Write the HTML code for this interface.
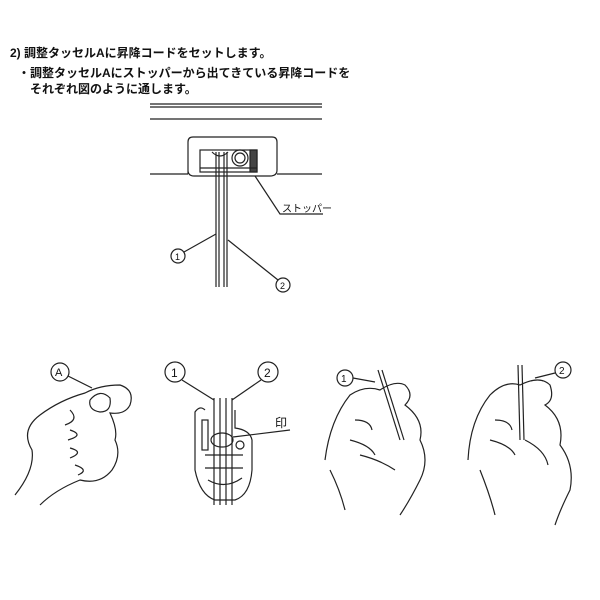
<!DOCTYPE html>
<html><head><meta charset="utf-8"><style>
body{margin:0;background:#fff;width:600px;height:600px;overflow:hidden}
.t{position:absolute;font-family:"Liberation Sans","Noto Sans CJK JP",sans-serif;font-size:12px;color:#111;white-space:nowrap;font-weight:bold}
</style></head><body>
<div class="t" style="left:10px;top:44px">2) 調整タッセルAに昇降コードをセットします。</div>
<div class="t" style="left:18px;top:64px">・調整タッセルAにストッパーから出てきている昇降コードを</div>
<div class="t" style="left:30px;top:80px">それぞれ図のように通します。</div>
<svg width="600" height="600" style="position:absolute;left:0;top:0" fill="none" stroke="#222" stroke-width="1.2" font-family="Liberation Sans, Noto Sans CJK JP, sans-serif">
<line x1="150" y1="104" x2="322" y2="104"/><line x1="150" y1="107" x2="322" y2="107"/>
<line x1="150" y1="119" x2="322" y2="119"/>
<line x1="150" y1="174" x2="188" y2="174"/><line x1="277" y1="174" x2="322" y2="174"/>
<path d="M188 174 V142 Q188 137 193 137 H272 Q277 137 277 142 V170 Q277 176 270 176 H194 Q188 176 188 170"/>
<rect x="200" y="150" width="57" height="22"/>
<path d="M212 152 Q220 160 228 152"/><circle cx="240" cy="158" r="8"/><circle cx="240" cy="158" r="5"/>
<rect x="250" y="150" width="7" height="22" fill="#444"/>
<line x1="200" y1="168" x2="257" y2="168"/>
<line x1="216" y1="152" x2="216" y2="287"/><line x1="219" y1="152" x2="219" y2="287"/>
<line x1="224" y1="152" x2="224" y2="287"/><line x1="227" y1="152" x2="227" y2="287"/>
<path d="M255 176 L280 214 H323"/>
<text x="282" y="212" font-size="10" fill="#111" stroke="none">ストッパー</text>
<circle cx="178" cy="256" r="7"/><text x="175" y="260" font-size="9" fill="#111" stroke="none">1</text>
<line x1="184" y1="252" x2="216" y2="234"/>
<circle cx="283" cy="285" r="7"/><text x="280" y="289" font-size="9" fill="#111" stroke="none">2</text>
<line x1="278" y1="280" x2="228" y2="240"/>
<!-- hand 1 -->
<circle cx="60" cy="372" r="9"/><text x="55" y="376" font-size="11" fill="#111" stroke="none">A</text>
<path d="M68 376 L92 388"/>
<path d="M15 495 Q35 470 32 450 Q20 430 40 415 Q60 400 85 393 Q100 385 120 385 Q135 390 130 405 Q125 415 110 413 Q118 430 115 440 Q122 455 112 470 Q100 485 80 480 Q55 490 40 505"/>
<path d="M90 400 Q100 388 110 398 Q112 412 100 412 Q88 410 90 400"/>
<path d="M70 410 Q80 420 65 425 M70 430 Q85 435 68 440 M70 448 Q85 452 70 458 M75 465 Q90 470 78 475"/>
<!-- middle -->
<circle cx="175" cy="372" r="10"/><text x="171" y="377" font-size="12" fill="#111" stroke="none">1</text>
<circle cx="268" cy="372" r="10"/><text x="264" y="377" font-size="12" fill="#111" stroke="none">2</text>
<line x1="182" y1="380" x2="214" y2="400"/><line x1="261" y1="380" x2="232" y2="400"/>
<path d="M205 410 Q200 405 195 412 V470 Q200 495 215 500 H235 Q250 495 252 470 V440 Q250 430 235 428 V410"/>
<rect x="202" y="420" width="6" height="30"/>
<line x1="214" y1="398" x2="214" y2="505"/><line x1="220" y1="398" x2="220" y2="505"/>
<line x1="226" y1="398" x2="226" y2="505"/><line x1="232" y1="398" x2="232" y2="505"/>
<ellipse cx="222" cy="440" rx="11" ry="7"/><circle cx="240" cy="445" r="4"/>
<path d="M205 455 H243 M205 468 H243 M208 480 Q225 490 242 478"/>
<line x1="233" y1="437" x2="290" y2="430"/>
<text x="275" y="427" font-size="12" fill="#111" stroke="none">印</text>
<!-- hand 3 -->
<circle cx="345" cy="378" r="8"/><text x="341" y="382" font-size="10" fill="#111" stroke="none">1</text>
<path d="M353 378 L375 382"/>
<line x1="378" y1="370" x2="400" y2="440"/><line x1="382" y1="370" x2="404" y2="440"/>
<path d="M325 460 Q330 420 350 395 Q365 385 380 390 Q395 380 405 385 Q415 395 405 405 Q425 420 420 440 Q430 460 420 480 Q410 500 400 515 M330 470 Q340 490 345 510"/>
<path d="M355 420 Q370 420 372 430 M350 440 Q370 445 375 455 M360 455 Q380 460 395 470"/>
<!-- hand 4 -->
<circle cx="563" cy="370" r="8"/><text x="559" y="374" font-size="10" fill="#111" stroke="none">2</text>
<path d="M555 373 L535 378"/>
<line x1="518" y1="365" x2="520" y2="440"/><line x1="522" y1="365" x2="524" y2="440"/>
<path d="M468 460 Q470 420 490 395 Q505 380 520 385 Q540 375 550 385 Q555 400 545 405 Q565 420 560 445 Q575 465 570 490 Q560 510 555 525 M480 470 Q490 495 495 515"/>
<path d="M495 420 Q510 420 512 430 M490 440 Q510 445 515 455 M525 440 Q545 450 548 465"/>
</svg>
</body></html>
